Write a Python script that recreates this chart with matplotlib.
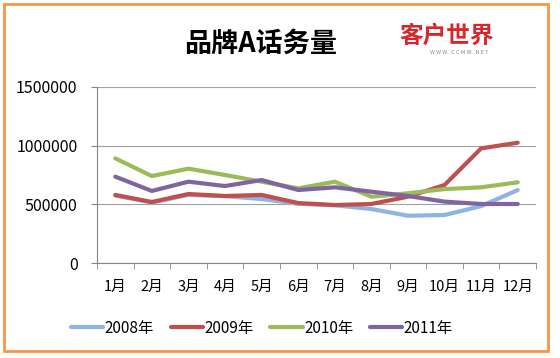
import matplotlib.pyplot as plt
from matplotlib.patches import Rectangle

plt.rcParams['font.family'] = ['Noto Sans CJK SC', 'DejaVu Sans']

months = ['1月', '2月', '3月', '4月', '5月', '6月', '7月', '8月', '9月', '10月', '11月', '12月']
y2008 = [575000, 515000, 580000, 570000, 545000, 505000, 492000, 460000, 403000, 409000, 485000, 622000]
y2009 = [580000, 520000, 588000, 571000, 580000, 511000, 494000, 503000, 565000, 665000, 977000, 1025000]
y2010 = [892000, 741000, 804000, 750000, 693000, 636000, 693000, 565000, 594000, 630000, 645000, 688000]
y2011 = [736000, 614000, 693000, 656000, 707000, 622000, 645000, 608000, 571000, 523000, 503000, 503000]
series = [('2008年', y2008, '#8DB4E2'), ('2009年', y2009, '#C0504D'),
          ('2010年', y2010, '#9BBB59'), ('2011年', y2011, '#8064A2')]

fig = plt.figure(figsize=(5.6, 3.58), dpi=100)
fig.patches.append(Rectangle((4 / 560, 1 - 351 / 358), 544 / 560, 347 / 358,
                             transform=fig.transFigure, fill=False,
                             edgecolor='#F79646', linewidth=2))

ax = fig.add_axes([97 / 560, 1 - 263 / 358, 439 / 560, 176 / 358])
x = list(range(len(months)))
handles = []
for name, vals, col in series:
    h, = ax.plot(x, vals, color=col, linewidth=3, solid_capstyle='round', label=name)
    handles.append(h)

ax.set_xlim(-0.5, 11.5)
ax.set_ylim(0, 1500000)
ax.set_yticks([0, 500000, 1000000, 1500000])
ax.set_yticklabels(['0', '500000', '1000000', '1500000'], fontsize=11.5)
ax.set_xticks(x)
ax.set_xticklabels(months, fontsize=10.5)
ax.set_xticks([i - 0.5 for i in range(13)], minor=True)
ax.tick_params(axis='x', which='major', length=0, pad=12)
ax.tick_params(axis='x', which='minor', length=4, color='#868686', direction='out')
ax.tick_params(axis='y', length=4, color='#868686', pad=10)
ax.grid(axis='y', color='#A0A0A0', linewidth=0.8)
ax.set_axisbelow(True)
for s in ['top', 'right']:
    ax.spines[s].set_visible(False)
for s in ['left', 'bottom']:
    ax.spines[s].set_color('#868686')
    ax.spines[s].set_linewidth(0.8)

fig.legend(handles=handles, loc='center', bbox_to_anchor=(262 / 560, 1 - 328 / 358),
           ncol=4, frameon=False, fontsize=11, handlelength=2.1, handletextpad=0.1,
           columnspacing=1.1)

fig.text(261 / 560, 1 - 44 / 358, '品牌A话务量', ha='center', va='center',
         fontsize=19.5, fontweight='bold')
fig.text(447 / 560, 1 - 36 / 358, '客户世界', ha='center', va='center',
         fontsize=17, fontweight='bold', color='#D9262B')
fig.text(459 / 560, 1 - 53 / 358, 'W W W.  C C M W.  N E T', ha='center', va='center',
         fontsize=4, color='#888888')

fig.savefig('out.png', dpi=100)
